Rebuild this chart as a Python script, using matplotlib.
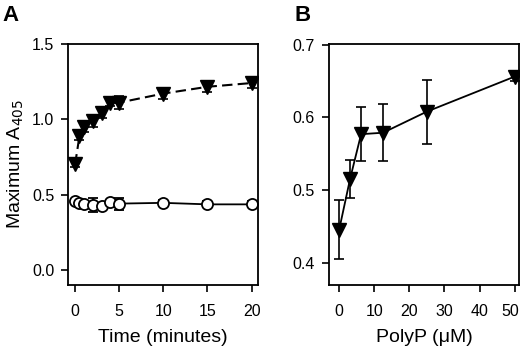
import matplotlib
matplotlib.use("Agg")
import matplotlib.pyplot as plt
from matplotlib.transforms import ScaledTranslation

plt.rcParams['font.family'] = ['Liberation Sans', 'DejaVu Sans']
plt.rcParams['font.size'] = 11.5

# === PANEL A DATA ===
time_min = [0, 0.5, 1, 2, 3, 4, 5, 10, 15, 20]
a405_tri = [0.70, 0.89, 0.945, 0.99, 1.04, 1.105, 1.11, 1.17, 1.215, 1.24]
a405_tri_err = [0.02, 0.03, 0.03, 0.04, 0.03, 0.02, 0.045, 0.035, 0.035, 0.03]
a405_circ = [0.455, 0.445, 0.438, 0.43, 0.425, 0.448, 0.44, 0.445, 0.435, 0.435]
a405_circ_err = [0.01, 0.01, 0.02, 0.045, 0.02, 0.01, 0.04, 0.02, 0.02, 0.02]

# === PANEL B DATA ===
polyp_um = [0, 3.125, 6.25, 12.5, 25, 50]
b_vals = [0.446, 0.516, 0.577, 0.579, 0.608, 0.656]
b_err = [0.041, 0.026, 0.037, 0.039, 0.044, 0.006]

fig = plt.figure(figsize=(5.2, 3.49), dpi=100)
axA = fig.add_axes([0.1308, 0.1834, 0.365, 0.691])
axB = fig.add_axes([0.6327, 0.1834, 0.365, 0.691])

# ==== Panel A ====
axA.errorbar(time_min, a405_tri, yerr=a405_tri_err, color="black", ls=(0, (5, 2.5)),
             lw=1.5, marker="v", ms=9.5, mfc="black", mec="black",
             ecolor="black", elinewidth=1.2, capsize=3.5, capthick=1.2)
axA.errorbar(time_min, a405_circ, yerr=a405_circ_err, color="black", ls="-",
             lw=1.3, marker="o", ms=8, mfc="white", mec="black", mew=1.3,
             ecolor="black", elinewidth=1.2, capsize=3.5, capthick=1.2)
axA.set_xlim(-0.8, 20.7)
axA.set_ylim(-0.1, 1.5)
axA.set_xticks([0, 5, 10, 15, 20])
axA.set_yticks([0.0, 0.5, 1.0, 1.5])
axA.set_xlabel("Time (minutes)", fontsize=14, labelpad=7)
axA.set_ylabel("Maximum A$_{405}$", fontsize=14, labelpad=4)

# ==== Panel B ====
axB.errorbar(polyp_um, b_vals, yerr=b_err, color="black", ls="-", lw=1.3,
             marker="v", ms=9.5, mfc="black", mec="black",
             ecolor="black", elinewidth=1.2, capsize=3.5, capthick=1.2)
axB.set_xlim(-2.9, 51.2)
axB.set_ylim(0.37, 0.701)
axB.set_xticks([0, 10, 20, 30, 40, 50])
axB.set_yticks([0.4, 0.5, 0.6, 0.7])
axB.set_xlabel("PolyP (\u03bcM)", fontsize=14, labelpad=7)

for ax in (axA, axB):
    for s in ax.spines.values():
        s.set_linewidth(1.3)
    ax.tick_params(direction="out", length=5, width=1.2, pad=5,
                   top=False, right=False)
    ax.tick_params(axis="x", pad=9)

# keep the last tick label of B inside the picture
lbl = axB.get_xticklabels()[-1]
lbl.set_transform(lbl.get_transform() + ScaledTranslation(-3 / 72, 0, fig.dpi_scale_trans))

fig.text(0.004, 0.985, "A", fontsize=16, fontweight="bold", va="top")
fig.text(0.567, 0.985, "B", fontsize=16, fontweight="bold", va="top")

fig.savefig("out.png", dpi=100)
